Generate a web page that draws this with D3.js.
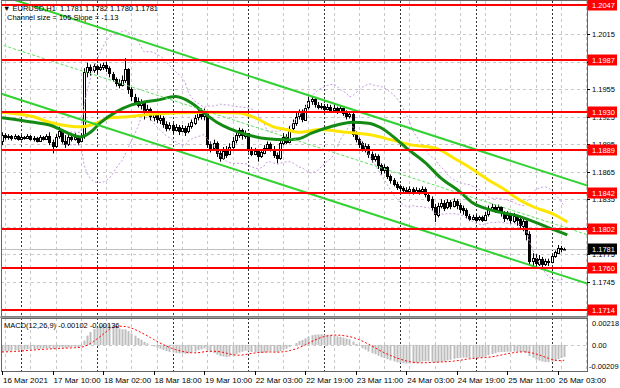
<!DOCTYPE html>
<meta charset="utf-8">
<style>
body { margin: 0; background: #fff; }
text { font-family: "Liberation Sans", Arial, sans-serif; font-size: 8px; fill: #000; }
</style>
<body>
<script src="https://cdn.jsdelivr.net/npm/d3@7"></script>
<script>

var width = 620,
    height = 388;

// EURUSD H1, 16 Mar 18:00 -> 26 Mar 04:00 (open of each bar = previous close)
var firstOpen = 1.1898;

var closes = [
  1.1905,1.1903,1.1904,1.1902,1.1904,1.1901,1.1903,1.1902,1.1904,1.1901,
  1.1902,1.1899,1.1903,1.1901,1.1904,1.1897,1.1893,1.1903,1.1909,1.1898,
  1.1895,1.1903,1.1901,1.1903,1.1898,1.1904,1.1974,1.1979,1.1976,1.1980,
  1.1977,1.1979,1.1981,1.1978,1.1972,1.1966,1.1962,1.1960,1.1965,1.1977,
  1.1955,1.1947,1.1942,1.1938,1.1940,1.1930,1.1933,1.1925,1.1928,1.1922,
  1.1924,1.1917,1.1913,1.1916,1.1911,1.1914,1.1910,1.1913,1.1909,1.1915,
  1.1919,1.1924,1.1930,1.1926,1.1929,1.1895,1.1891,1.1896,1.1885,1.1880,
  1.1888,1.1884,1.1892,1.1899,1.1905,1.1910,1.1904,1.1907,1.1890,1.1885,
  1.1888,1.1882,1.1886,1.1891,1.1895,1.1890,1.1883,1.1880,1.1896,1.1903,
  1.1898,1.1912,1.1918,1.1925,1.1931,1.1922,1.1935,1.1942,1.1944,1.1938,
  1.1936,1.1937,1.1934,1.1936,1.1933,1.1935,1.1931,1.1934,1.1929,1.1926,
  1.1928,1.1906,1.1901,1.1896,1.1890,1.1893,1.1884,1.1879,1.1882,1.1872,
  1.1867,1.1870,1.1860,1.1856,1.1852,1.1849,1.1847,1.1845,1.1844,1.1846,
  1.1843,1.1845,1.1844,1.1846,1.1840,1.1835,1.1826,1.1818,1.1828,1.1831,
  1.1826,1.1832,1.1828,1.1833,1.1829,1.1825,1.1823,1.1817,1.1814,1.1816,
  1.1813,1.1815,1.1812,1.1818,1.1825,1.1827,1.1823,1.1826,1.1820,1.1815,
  1.1818,1.1812,1.1817,1.1813,1.1806,1.1811,1.1797,1.1768,1.1771,1.1765,
  1.1770,1.1764,1.1767,1.1766,1.1773,1.1777,1.1782,1.1781,1.1781
];

var highs = [
  1.1908,1.1907,1.1906,1.1905,1.1906,1.1905,1.1905,1.1904,1.1906,1.1905,
  1.1904,1.1903,1.1905,1.1904,1.1906,1.1908,1.1900,1.1906,1.1914,1.1911,
  1.1905,1.1907,1.1906,1.1907,1.1904,1.1907,1.1978,1.1984,1.1982,1.1983,
  1.1982,1.1983,1.1984,1.1985,1.1980,1.1974,1.1968,1.1966,1.1970,1.1989,
  1.1978,1.1957,1.1950,1.1946,1.1944,1.1942,1.1938,1.1935,1.1931,1.1930,
  1.1928,1.1926,1.1920,1.1919,1.1918,1.1917,1.1916,1.1916,1.1915,1.1918,
  1.1922,1.1927,1.1933,1.1934,1.1934,1.1930,1.1898,1.1900,1.1898,1.1888,
  1.1892,1.1893,1.1896,1.1903,1.1908,1.1913,1.1912,1.1910,1.1905,1.1892,
  1.1891,1.1889,1.1889,1.1894,1.1898,1.1897,1.1893,1.1886,1.1900,1.1907,
  1.1906,1.1915,1.1922,1.1929,1.1933,1.1933,1.1938,1.1947,1.1947,1.1946,
  1.1941,1.1940,1.1939,1.1939,1.1938,1.1940,1.1936,1.1937,1.1935,1.1932,
  1.1931,1.1930,1.1909,1.1903,1.1898,1.1896,1.1895,1.1887,1.1885,1.1884,
  1.1874,1.1873,1.1871,1.1862,1.1858,1.1854,1.1851,1.1849,1.1848,1.1849,
  1.1848,1.1848,1.1847,1.1849,1.1848,1.1842,1.1838,1.1830,1.1831,1.1835,
  1.1834,1.1835,1.1834,1.1836,1.1835,1.1831,1.1828,1.1825,1.1819,1.1818,
  1.1818,1.1817,1.1817,1.1821,1.1828,1.1830,1.1829,1.1829,1.1827,1.1822,
  1.1822,1.1820,1.1820,1.1818,1.1815,1.1815,1.1812,1.1800,1.1776,1.1775,
  1.1774,1.1772,1.1770,1.1770,1.1775,1.1779,1.1785,1.1784,1.1782
];

var lows = [
  1.1894,1.1900,1.1900,1.1899,1.1900,1.1899,1.1899,1.1900,1.1901,1.1899,
  1.1898,1.1897,1.1898,1.1899,1.1900,1.1894,1.1885,1.1891,1.1901,1.1895,
  1.1891,1.1893,1.1898,1.1899,1.1894,1.1897,1.1901,1.1968,1.1970,1.1973,
  1.1972,1.1975,1.1976,1.1974,1.1968,1.1963,1.1958,1.1956,1.1958,1.1962,
  1.1950,1.1942,1.1938,1.1935,1.1933,1.1922,1.1926,1.1921,1.1920,1.1918,
  1.1917,1.1913,1.1909,1.1910,1.1906,1.1909,1.1905,1.1908,1.1904,1.1907,
  1.1912,1.1916,1.1921,1.1922,1.1921,1.1891,1.1886,1.1889,1.1881,1.1876,
  1.1878,1.1880,1.1883,1.1890,1.1896,1.1902,1.1900,1.1901,1.1886,1.1882,
  1.1883,1.1876,1.1880,1.1884,1.1889,1.1887,1.1880,1.1874,1.1878,1.1894,
  1.1895,1.1896,1.1910,1.1915,1.1922,1.1919,1.1921,1.1933,1.1938,1.1935,
  1.1933,1.1933,1.1931,1.1932,1.1930,1.1931,1.1928,1.1929,1.1926,1.1922,
  1.1923,1.1903,1.1897,1.1891,1.1887,1.1886,1.1880,1.1875,1.1876,1.1868,
  1.1862,1.1863,1.1857,1.1852,1.1849,1.1845,1.1843,1.1841,1.1841,1.1843,
  1.1840,1.1841,1.1840,1.1842,1.1837,1.1832,1.1822,1.1810,1.1815,1.1825,
  1.1822,1.1824,1.1824,1.1826,1.1824,1.1820,1.1818,1.1814,1.1811,1.1812,
  1.1811,1.1811,1.1810,1.1811,1.1816,1.1822,1.1820,1.1821,1.1816,1.1810,
  1.1812,1.1808,1.1809,1.1806,1.1802,1.1800,1.1790,1.1764,1.1762,1.1760,
  1.1762,1.1760,1.1762,1.1762,1.1765,1.1771,1.1775,1.1777,1.1780
];

// moving averages (bar index, price)
var greenMaBars   = [0, 10, 15, 25, 28, 31, 36, 41, 45, 49, 55, 60, 64, 68, 72, 78, 84, 90, 94, 98, 104, 111, 116, 120, 125, 128, 134, 139, 145, 149, 155, 164, 173, 179];
var greenMaValues = [1.1924, 1.1919, 1.1916, 1.1903, 1.1908, 1.1918, 1.1930, 1.1938, 1.1941, 1.1943, 1.1947, 1.1940, 1.1929, 1.1919, 1.1912, 1.1905, 1.1901, 1.1900, 1.1901, 1.1907, 1.1914, 1.1919, 1.1918, 1.1913, 1.1900, 1.1891, 1.1875, 1.1858, 1.1843, 1.1831, 1.1823, 1.1816, 1.1804, 1.1796];
var yellowMaBars   = [0, 10, 15, 21, 25, 30, 34, 40, 45, 54, 65, 75, 80, 86, 90, 94, 101, 109, 117, 123, 130, 137, 143, 147, 154, 158, 164, 168, 175, 179];
var yellowMaValues = [1.1930, 1.1925, 1.1919, 1.1915, 1.1914, 1.1918, 1.1924, 1.1925, 1.1927, 1.1929, 1.1930, 1.1929, 1.1924, 1.1914, 1.1911, 1.1908, 1.1911, 1.1908, 1.1905, 1.1900, 1.1894, 1.1891, 1.1880, 1.1872, 1.1856, 1.1848, 1.1834, 1.1827, 1.1818, 1.1810];

// regression channel (bars -1 .. 186)
var channelBars  = [-1, 186];
var channelUpper = [1.2058, 1.1849];
var channelLower = [1.1951, 1.1742];

var levels = [1.2047, 1.1987, 1.1930, 1.1889, 1.1842, 1.1802, 1.1760, 1.1714];
var priceTicks = [1.2015, 1.1985, 1.1955, 1.1925, 1.1895, 1.1865, 1.1835, 1.1805, 1.1775, 1.1745, 1.1715];
var lastPrice = 1.1781;

var timeLabels    = ["16 Mar 2021", "17 Mar 10:00", "18 Mar 02:00", "18 Mar 18:00", "19 Mar 10:00", "22 Mar 03:00",
                     "22 Mar 19:00", "23 Mar 11:00", "24 Mar 03:00", "24 Mar 19:00", "25 Mar 11:00", "26 Mar 03:00"];
var timeLabelBars = [0, 16, 32, 48, 64, 80, 96, 112, 128, 144, 160, 176];
var daySeparators = [6, 30, 54, 78, 102, 126, 150, 174];

// MACD(12,26,9): EMA seeds before the first bar, signal seed
var macdSeed = [1.1906, 1.1913, -0.0007];
var macdTicks = [0.00218, 0, -0.00209];
var macdTickLabels = ["0.00218", "0.00", "-0.00209"];

var x = d3.scaleLinear().domain([0, 177]).range([2, 561]);
var y = d3.scaleLinear().domain([1.1714, 1.2047]).range([310, 5]);
var ym = d3.scaleLinear().domain([-0.00209, 0.00218]).range([366, 323]);

var left = 1, right = 587, mainBottom = 316, macdTop = 318, macdBottom = 371;

var svg = d3.select("body").append("svg")
    .attr("width", width)
    .attr("height", height);

var defs = svg.append("defs");
defs.append("clipPath").attr("id", "clipMain").append("rect")
    .attr("x", left).attr("y", left).attr("width", right - left).attr("height", mainBottom - left);
defs.append("clipPath").attr("id", "clipMacd").append("rect")
    .attr("x", left).attr("y", macdTop).attr("width", right - left).attr("height", macdBottom - macdTop);

svg.append("rect").attr("width", width).attr("height", height).attr("fill", "#fff");

var main = svg.append("g").attr("clip-path", "url(#clipMain)");
var sub = svg.append("g").attr("clip-path", "url(#clipMacd)");

// grid
main.selectAll(".hgrid").data(priceTicks).enter().append("line")
    .attr("x1", left).attr("x2", right)
    .attr("y1", function(d) { return Math.round(y(d)) + 0.5; })
    .attr("y2", function(d) { return Math.round(y(d)) + 0.5; })
    .attr("stroke", "#c8c8c8").attr("stroke-dasharray", "3,3");

var vgrid = d3.range(1, 186, 8);
[[main, left, mainBottom], [sub, macdTop, macdBottom]].forEach(function(p) {
  p[0].selectAll(".vgrid").data(vgrid).enter().append("line")
      .attr("x1", function(d) { return Math.round(x(d)) + 0.5; })
      .attr("x2", function(d) { return Math.round(x(d)) + 0.5; })
      .attr("y1", p[1]).attr("y2", p[2])
      .attr("stroke", "#c8c8c8").attr("stroke-dasharray", "3,3");
  p[0].selectAll(".sep").data(daySeparators).enter().append("line")
      .attr("x1", function(d) { return Math.round(x(d)) + 0.5; })
      .attr("x2", function(d) { return Math.round(x(d)) + 0.5; })
      .attr("y1", p[1]).attr("y2", p[2])
      .attr("stroke", "#333").attr("stroke-dasharray", "2,2");
});

// bid line
main.append("line")
    .attr("x1", left).attr("x2", right)
    .attr("y1", Math.round(y(lastPrice)) + 0.5).attr("y2", Math.round(y(lastPrice)) + 0.5)
    .attr("stroke", "#c0c0c0");

// candles
var bars = closes.map(function(c, i) {
  return {i: i, o: i ? closes[i - 1] : firstOpen, h: highs[i], l: lows[i], c: c};
});

var candle = main.selectAll(".candle").data(bars).enter().append("g");
candle.append("line")
    .attr("x1", function(d) { return Math.round(x(d.i)) + 0.5; })
    .attr("x2", function(d) { return Math.round(x(d.i)) + 0.5; })
    .attr("y1", function(d) { return y(d.h); })
    .attr("y2", function(d) { return y(d.l); })
    .attr("stroke", "#000");
candle.append("rect")
    .attr("x", function(d) { return Math.round(x(d.i)) - 0.5; })
    .attr("width", 2)
    .attr("y", function(d) { return Math.round(y(Math.max(d.o, d.c))) + 0.5; })
    .attr("height", function(d) { return Math.max(0.5, Math.round(Math.abs(y(d.o) - y(d.c)))); })
    .attr("fill", function(d) { return d.c >= d.o ? "#fff" : "#000"; })
    .attr("stroke", "#000");

// Bollinger bands (20, 2)
var bb = [];
closes.forEach(function(c, i) {
  if (i < 19) return;
  var w = closes.slice(i - 19, i + 1), m = d3.mean(w);
  var sd = Math.sqrt(d3.mean(w, function(v) { return (v - m) * (v - m); }));
  bb.push({i: i, up: m + 2 * sd, lo: m - 2 * sd});
});
["up", "lo"].forEach(function(k) {
  main.append("path").datum(bb)
      .attr("fill", "none").attr("stroke", "#c79be0").attr("stroke-dasharray", "2,2")
      .attr("d", d3.line().x(function(d) { return x(d.i); }).y(function(d) { return y(d[k]); }));
});

// moving averages
function maLine(bi, vals) {
  return d3.line().curve(d3.curveMonotoneX)
      .x(function(d, i) { return x(bi[i]); })
      .y(function(d) { return y(d); })(vals);
}
main.append("path").attr("d", maLine(yellowMaBars, yellowMaValues))
    .attr("fill", "none").attr("stroke", "#ffe600").attr("stroke-width", 3);
main.append("path").attr("d", maLine(greenMaBars, greenMaValues))
    .attr("fill", "none").attr("stroke", "#138a13").attr("stroke-width", 3);

// channel
var chLine = d3.line().x(function(d, i) { return x(channelBars[i]); }).y(function(d) { return y(d); });
var channelMid = channelUpper.map(function(d, i) { return (d + channelLower[i]) / 2; });
main.append("path").attr("d", chLine(channelMid))
    .attr("fill", "none").attr("stroke", "#5fe05f").attr("stroke-dasharray", "3,2");
[channelUpper, channelLower].forEach(function(c) {
  main.append("path").attr("d", chLine(c))
      .attr("fill", "none").attr("stroke", "#32d232").attr("stroke-width", 2);
});

// horizontal levels
main.selectAll(".level").data(levels).enter().append("line")
    .attr("x1", left).attr("x2", right)
    .attr("y1", function(d) { return Math.round(y(d)); })
    .attr("y2", function(d) { return Math.round(y(d)); })
    .attr("stroke", "#ff0000").attr("stroke-width", 2);

// MACD
var emaF = macdSeed[0], emaS = macdSeed[1], mains = [];
var macd = closes.map(function(c, i) {
  emaF = emaF + (c - emaF) * 2 / 13;
  emaS = emaS + (c - emaS) * 2 / 27;
  mains.push(emaF - emaS);
  var w = mains.slice(Math.max(0, i - 8));
  var sig = (d3.sum(w) + (9 - w.length) * macdSeed[2]) / 9;
  return {i: i, m: emaF - emaS, s: sig};
});

sub.append("line")
    .attr("x1", left).attr("x2", right)
    .attr("y1", Math.round(ym(0)) + 0.5).attr("y2", Math.round(ym(0)) + 0.5)
    .attr("stroke", "#c8c8c8").attr("stroke-dasharray", "3,3");
sub.selectAll(".hist").data(macd).enter().append("rect")
    .attr("x", function(d) { return Math.round(x(d.i)) - 0.5; })
    .attr("width", 2)
    .attr("y", function(d) { return Math.min(ym(d.m), ym(0)); })
    .attr("height", function(d) { return Math.abs(ym(d.m) - ym(0)); })
    .attr("fill", "#bdbdbd");
sub.append("path").datum(macd)
    .attr("fill", "none").attr("stroke", "#ff0000").attr("stroke-dasharray", "2,2")
    .attr("d", d3.line().x(function(d) { return x(d.i); }).y(function(d) { return ym(d.s); }));

// frames
svg.append("rect").attr("x", left + 0.5).attr("y", 0.5).attr("width", right - left).attr("height", mainBottom)
    .attr("fill", "none").attr("stroke", "#666");
svg.append("rect").attr("x", left + 0.5).attr("y", macdTop + 0.5).attr("width", right - left).attr("height", macdBottom - macdTop)
    .attr("fill", "none").attr("stroke", "#666");
svg.append("rect").attr("x", 0).attr("y", mainBottom + 0.5).attr("width", right + 1).attr("height", 1.5).attr("fill", "#999");

// price axis (labels fully covered by a level tag are left out)
var visibleTicks = priceTicks.filter(function(d) {
  return levels.every(function(l) { return Math.abs(y(l) - y(d)) > 3.5; });
});
svg.selectAll(".ptick").data(priceTicks).enter().append("line")
    .attr("x1", right).attr("x2", right + 3)
    .attr("y1", function(d) { return Math.round(y(d)) + 0.5; })
    .attr("y2", function(d) { return Math.round(y(d)) + 0.5; })
    .attr("stroke", "#000");
svg.selectAll(".plabel").data(visibleTicks).enter().append("text")
    .attr("x", right + 5).attr("y", function(d) { return y(d) + 3; })
    .style("font-size", "7.5px")
    .text(function(d) { return d.toFixed(4); });

var tags = levels.map(function(d) { return {v: d, fill: "#ff0000"}; })
    .concat([{v: lastPrice, fill: "#000"}]);
var tag = svg.selectAll(".tag").data(tags).enter().append("g");
tag.append("rect")
    .attr("x", right + 1).attr("width", 29)
    .attr("y", function(d) { return Math.round(y(d.v)) - 5.5; })
    .attr("height", 11)
    .attr("fill", function(d) { return d.fill; });
tag.append("text")
    .attr("x", right + 5).attr("y", function(d) { return y(d.v) + 3; })
    .style("font-size", "7.5px").style("fill", "#fff")
    .text(function(d) { return d.v.toFixed(4); });

// MACD axis
svg.selectAll(".mlabel").data(macdTicks).enter().append("text")
    .attr("x", function(d) { return d < 0 ? right + 2 : right + 5; })
    .attr("y", function(d) { return ym(d) + 3; })
    .style("font-size", "7.5px")
    .text(function(d, i) { return macdTickLabels[i]; });

// time axis
svg.selectAll(".ttick").data(timeLabelBars).enter().append("line")
    .attr("x1", function(d) { return Math.round(x(d)) + 0.5; })
    .attr("x2", function(d) { return Math.round(x(d)) + 0.5; })
    .attr("y1", macdBottom).attr("y2", macdBottom + 4)
    .attr("stroke", "#000");
svg.selectAll(".tlabel").data(timeLabelBars).enter().append("text")
    .attr("x", function(d) { return x(d) + 1; })
    .attr("y", 383)
    .text(function(d, i) { return timeLabels[i]; });

// titles
var last = bars[bars.length - 1];
svg.append("text").attr("x", 3).attr("y", 11).style("font-size", "7.5px").style("white-space", "pre")
    .text("\u25BC EURUSD,H1  " + [last.o, last.h, last.l, last.c].map(function(v) { return v.toFixed(4); }).join(" "));
svg.append("text").attr("x", 7).attr("y", 20).style("font-size", "7.5px")
    .text("Channel size = 105 Slope = -1.13");
svg.append("text").attr("x", 4).attr("y", 328).style("font-size", "7.5px").style("white-space", "pre")
    .text("MACD(12,26,9) -0.00102 -0.00136");

</script>
